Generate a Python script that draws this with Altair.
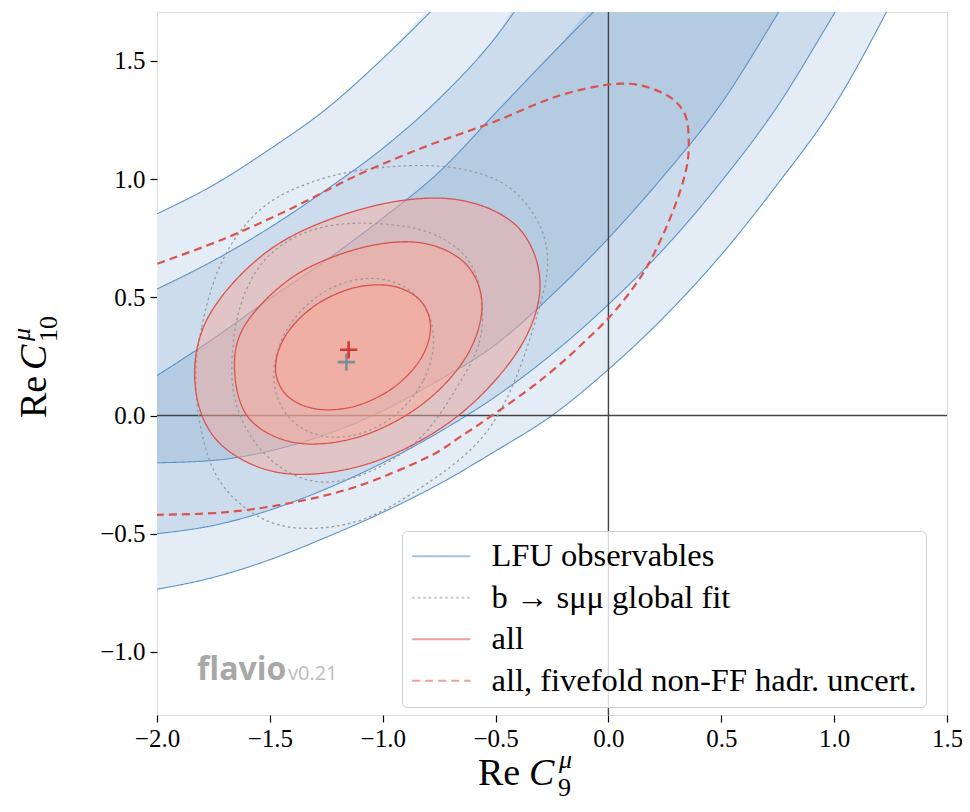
import altair as alt
import pandas as pd

# ---------------- data ----------------
# LFU observables: band boundaries sampled on a common Re C9 grid (None = above the plot)
GRID_X = [-2.0, -1.75, -1.5, -1.25, -1.0, -0.75, -0.5, -0.25, 0.0, 0.25, 0.5, 0.75, 1.0, 1.25]
LFU_1S_UPPER = [0.169, 0.325, 0.495, 0.657, 0.835, 1.03, 1.28, 1.53, 1.77, None, None, None, None, None]
LFU_1S_LOWER = [-0.20, -0.19, -0.15, -0.08, 0.02, 0.15, 0.30, 0.51, 0.75, 1.02, 1.32, 1.70, 2.10, None]
LFU_2S_UPPER = [0.535, 0.655, 0.795, 0.955, 1.13, 1.34, 1.60, 1.95, None, None, None, None, None, None]
LFU_2S_LOWER = [-0.50, -0.465, -0.40, -0.31, -0.20, -0.07, 0.08, 0.26, 0.47, 0.71, 0.99, 1.31, 1.70, 2.10]
LFU_3S_UPPER = [0.853, 0.975, 1.127, 1.297, 1.51, 1.745, None, None, None, None, None, None, None, None]
LFU_3S_LOWER = [-0.735, -0.685, -0.61, -0.515, -0.41, -0.29, -0.15, 0.0, 0.195, 0.42, 0.68, 0.98, 1.31, 1.74]
BAND_TOP = 1.8  # bands run out of the top of the plot

# "all" contours (1, 2, 3 sigma), traced points going round each ellipse
ALL_1S_X = [-0.788, -0.834, -0.960, -1.132, -1.303, -1.429, -1.475, -1.429, -1.303, -1.132, -0.960, -0.834]
ALL_1S_Y = [0.373, 0.236, 0.113, 0.037, 0.029, 0.089, 0.203, 0.340, 0.463, 0.539, 0.548, 0.487]
ALL_2S_X = [-0.560, -0.633, -0.834, -1.107, -1.381, -1.585, -1.655, -1.615, -1.40, -1.107, -0.834, -0.633]
ALL_2S_Y = [0.464, 0.244, 0.041, -0.091, -0.116, -0.02, 0.17, 0.375, 0.585, 0.706, 0.731, 0.642]
ALL_3S_X = [-0.303, -0.40, -0.685, -1.067, -1.450, -1.730, -1.832, -1.765, -1.48, -1.067, -0.685, -0.405]
ALL_3S_Y = [0.556, 0.275, -0.015, -0.205, -0.243, -0.11, 0.14, 0.43, 0.715, 0.88, 0.915, 0.80]

# b -> s mu mu global fit contours
GLOB_1S_X = [-0.758, -0.808, -0.943, -1.129, -1.314, -1.449, -1.499, -1.449, -1.314, -1.129, -0.943, -0.808]
GLOB_1S_Y = [0.321, 0.140, -0.014, -0.099, -0.092, 0.006, 0.167, 0.350, 0.503, 0.588, 0.579, 0.482]
GLOB_2S_X = [-0.552, -0.568, -0.625, -0.715, -0.81, -0.966, -1.15, -1.33, -1.50, -1.62, -1.675, -1.665, -1.645, -1.56, -1.38, -1.17, -0.95, -0.78, -0.63, -0.57]
GLOB_2S_Y = [0.42, 0.30, 0.19, 0.05, -0.085, -0.20, -0.28, -0.29, -0.20, -0.05, 0.12, 0.30, 0.44, 0.645, 0.775, 0.82, 0.81, 0.78, 0.69, 0.57]
GLOB_3S_X = [-1.845, -1.808, -1.734, -1.557, -1.335, -1.114, -0.804, -0.60, -0.420, -0.287, -0.257, -0.302, -0.390, -0.508, -0.656, -0.804, -0.95, -1.114, -1.335, -1.513, -1.660, -1.778]
GLOB_3S_Y = [0.136, 0.366, 0.648, 0.889, 0.987, 1.044, 1.065, 1.04, 0.973, 0.804, 0.634, 0.465, 0.189, -0.050, -0.191, -0.289, -0.38, -0.459, -0.487, -0.459, -0.360, -0.219]

# "all, fivefold non-FF hadr. uncert." contour (open: leaves through the left edge)
FIVE_X = [-2.05, -2.0, -1.704, -1.409, -1.114, -0.804, -0.508, -0.213, 0.053, 0.230, 0.334, 0.356, 0.334, 0.260, 0.156, 0.023, -0.125, -0.242, -0.361, -0.508, -0.656, -0.804, -1.114, -1.409, -1.704, -2.0, -2.05]
FIVE_Y = [0.62, 0.641, 0.747, 0.874, 1.016, 1.140, 1.242, 1.355, 1.404, 1.369, 1.284, 1.143, 1.001, 0.804, 0.606, 0.436, 0.295, 0.195, 0.105, 0.005, -0.09, -0.178, -0.30, -0.37, -0.41, -0.42, -0.42]

# best-fit points
BEST_ALL = (-1.151, 0.278)
BEST_GLOB = (-1.161, 0.226)

SERIES = ["LFU observables", "b \u2192 s\u03bc\u03bc global fit", "all", "all, fivefold non-FF hadr. uncert."]
X_TICKS = [-2.0, -1.5, -1.0, -0.5, 0.0, 0.5, 1.0, 1.5]
Y_TICKS = [-1.0, -0.5, 0.0, 0.5, 1.0, 1.5]

# ---------------- styling ----------------
W, H = 790, 703
SERIF = "Liberation Serif"
BAND_COLORS = {"3": "#e4ecf5", "2": "#cddcec", "1": "#b5cbe2"}
BLUE_LINE = "#5a93c8"
RED_LINE = "#d9534f"
RED_FILL = "#f9ab98"
GRAY_LINE = "#9a9a9a"

x_scale = alt.Scale(domain=[-2.0, 1.5], nice=False, zero=False)
y_scale = alt.Scale(domain=[-1.267, 1.707], nice=False, zero=False)
minus_expr = "replace(format(datum.value, '.1f'), '-', '\u2212')"
x_axis = alt.Axis(values=X_TICKS, labelExpr=minus_expr, title=None, grid=False, domain=False,
                  tickSize=7, tickWidth=1.2, tickColor="black", labelFont=SERIF, labelFontSize=25,
                  labelColor="black", labelPadding=4, labelFlush=False, labelOverlap=False)
y_axis = alt.Axis(values=Y_TICKS, labelExpr=minus_expr, title=None, grid=False, domain=False,
                  tickSize=7, tickWidth=1.2, tickColor="black", labelFont=SERIF, labelFontSize=25,
                  labelColor="black", labelPadding=5, labelFlush=False, labelOverlap=False)


def X(field="x"):
    return alt.X(f"{field}:Q", scale=x_scale, axis=x_axis)


def Y(field="y"):
    return alt.Y(f"{field}:Q", scale=y_scale, axis=y_axis)


legend = alt.Legend(title=None, orient="none", legendX=245, legendY=519,
                    symbolType="M-2.5,0L2.5,0", symbolSize=540, symbolStrokeWidth=2.2, symbolOffset=14,
                    symbolOpacity=0.55, labelFont=SERIF, labelFontSize=32.5, labelColor="black",
                    labelLimit=700, labelOffset=34, padding=9, rowPadding=8.5,
                    fillColor="rgba(255,255,255,0.8)", strokeColor="#d0d0d0", cornerRadius=5)
color_enc = alt.Color("series:N", scale=alt.Scale(domain=SERIES, range=[BLUE_LINE, GRAY_LINE, RED_LINE, RED_LINE]),
                      legend=legend)
dash_enc = alt.StrokeDash("series:N", scale=alt.Scale(domain=SERIES, range=[[1, 0], [2.5, 3], [1, 0], [8, 5]]),
                          legend=legend)

# ---------------- tables ----------------
bands = {"1": (LFU_1S_LOWER, LFU_1S_UPPER), "2": (LFU_2S_LOWER, LFU_2S_UPPER), "3": (LFU_3S_LOWER, LFU_3S_UPPER)}
band_layers = []
blue_rows = []
for key in ["3", "2", "1"]:
    lo, hi = bands[key]
    rows = []
    for gx, l, h in zip(GRID_X, lo, hi):
        if l is None:
            continue
        rows.append({"x": gx, "lo": l, "hi": h if h is not None else BAND_TOP})
        blue_rows.append({"x": gx, "y": l, "curve": f"lo{key}", "series": SERIES[0]})
        if h is not None:
            blue_rows.append({"x": gx, "y": h, "curve": f"hi{key}", "series": SERIES[0]})
    band_layers.append(
        alt.Chart(pd.DataFrame(rows)).mark_area(interpolate="monotone", clip=True, color=BAND_COLORS[key])
        .encode(x=X(), y=Y("lo"), y2="hi:Q")
    )

blue_lines = alt.Chart(pd.DataFrame(blue_rows)).mark_line(interpolate="monotone", clip=True, strokeWidth=1.1).encode(
    x=X(), y=Y(), detail="curve:N", color=color_enc, strokeDash=dash_enc, order="x:Q")


def contour_rows(xs, ys, name, series):
    return [{"x": a, "y": b, "i": i, "curve": name, "series": series} for i, (a, b) in enumerate(zip(xs, ys))]


red_df = pd.DataFrame(contour_rows(ALL_1S_X, ALL_1S_Y, "a1", SERIES[2])
                      + contour_rows(ALL_2S_X, ALL_2S_Y, "a2", SERIES[2])
                      + contour_rows(ALL_3S_X, ALL_3S_Y, "a3", SERIES[2]))
gray_df = pd.DataFrame(contour_rows(GLOB_1S_X, GLOB_1S_Y, "g1", SERIES[1])
                       + contour_rows(GLOB_2S_X, GLOB_2S_Y, "g2", SERIES[1])
                       + contour_rows(GLOB_3S_X, GLOB_3S_Y, "g3", SERIES[1]))
five_df = pd.DataFrame(contour_rows(FIVE_X, FIVE_Y, "f", SERIES[3]))

red_fill = alt.Chart(red_df).mark_line(interpolate="cardinal-closed", clip=True, fill=RED_FILL,
                                       fillOpacity=0.47, strokeOpacity=0).encode(
    x=X(), y=Y(), detail="curve:N", order="i:Q")
gray_lines = alt.Chart(gray_df).mark_line(interpolate="basis-closed", clip=True, strokeWidth=1.3).encode(
    x=X(), y=Y(), detail="curve:N", order="i:Q", color=color_enc, strokeDash=dash_enc)
red_lines = alt.Chart(red_df).mark_line(interpolate="cardinal-closed", clip=True, strokeWidth=1.3).encode(
    x=X(), y=Y(), detail="curve:N", order="i:Q", color=color_enc, strokeDash=dash_enc)
five_line = alt.Chart(five_df).mark_line(interpolate="cardinal", clip=True, strokeWidth=2.2).encode(
    x=X(), y=Y(), detail="curve:N", order="i:Q", color=color_enc, strokeDash=dash_enc)

zero_v = alt.Chart(pd.DataFrame({"x": [0.0]})).mark_rule(color="#444444", strokeWidth=1.4).encode(x=X())
zero_h = alt.Chart(pd.DataFrame({"y": [0.0]})).mark_rule(color="#444444", strokeWidth=1.4).encode(y=Y())

plus_path = "M-1,0L1,0M0,-1L0,1"
glob_pt = alt.Chart(pd.DataFrame({"x": [BEST_GLOB[0]], "y": [BEST_GLOB[1]]})).mark_point(
    shape=plus_path, size=300, strokeWidth=2.6, filled=False, color="#7f8f9a", opacity=1).encode(x=X(), y=Y())
all_pt = alt.Chart(pd.DataFrame({"x": [BEST_ALL[0]], "y": [BEST_ALL[1]]})).mark_point(
    shape=plus_path, size=300, strokeWidth=2.6, filled=False, color="#d43a2f", opacity=1).encode(x=X(), y=Y())

one = pd.DataFrame({"a": [0]})


def txt(text, x, y, size, style="normal", weight="normal", color="black", font=SERIF, angle=0):
    return alt.Chart(one).mark_text(text=text, align="left", baseline="alphabetic", font=font, fontSize=size,
                                    fontStyle=style, fontWeight=weight, color=color, angle=angle).encode(
        x=alt.value(x), y=alt.value(y))


titles = [
    txt("Re", 321, 773, 38),
    txt("C", 372, 773, 38, style="italic"),
    txt("\u03bc", 402, 756, 26, style="italic"),
    txt("9", 401, 784, 26),
    txt("Re", -111, 406, 38, angle=270),
    txt("C", -111, 358, 38, style="italic", angle=270),
    txt("\u03bc", -127, 329, 26, style="italic", angle=270),
    txt("10", -100, 330, 26, angle=270),
    txt("flavio", 40, 668, 32, weight="bold", color="#a8a8a8", font="Open Sans"),
    txt("v0.21", 131, 668, 20, color="#bcbcbc", font="Open Sans"),
]

chart = alt.layer(
    *band_layers, blue_lines, zero_v, zero_h, red_fill, gray_lines, red_lines, five_line,
    glob_pt, all_pt, *titles
).properties(
    width=W, height=H,
    autosize=alt.AutoSizeParams(type="none"),
    padding={"left": 149, "top": 4, "right": 15, "bottom": 97},
).configure_view(stroke="black", strokeWidth=1.5).configure(background="white")

chart.save("out.html", embed_options={"renderer": "svg", "actions": False})
